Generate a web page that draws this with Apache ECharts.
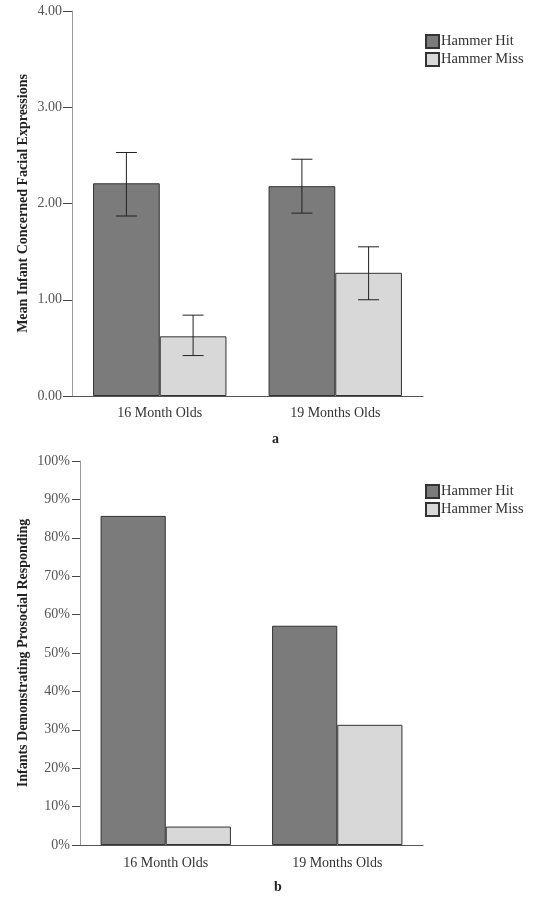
<!DOCTYPE html>
<html>
<head>
<meta charset="utf-8">
<script src="https://cdn.jsdelivr.net/npm/echarts@6/dist/echarts.min.js"></script>
<style>html,body{margin:0;padding:0;background:#fff}#c{width:534px;height:902px}</style>
</head>
<body>
<div id="c"></div>
<script>
const categories = ['16 Month Olds', '19 Months Olds'];
const seriesNames = ['Hammer Hit', 'Hammer Miss'];
// Panel a: mean concerned facial expressions
const meanHit = [2.21, 2.18];
const meanMiss = [0.62, 1.28];
const errHitLow = [1.87, 1.90];
const errHitHigh = [2.53, 2.46];
const errMissLow = [0.42, 1.00];
const errMissHigh = [0.84, 1.55];
const ticksA = [0, 1, 2, 3, 4];
// Panel b: percent prosocial responding
const pctHit = [85.7, 57.1];
const pctMiss = [4.8, 31.3];
const ticksB = [0, 10, 20, 30, 40, 50, 60, 70, 80, 90, 100];

const FONT = '"Liberation Serif", "Times New Roman", serif';
const DARK = '#7b7b7b', LIGHT = '#d8d8d8';
const CAT_GAP = 0.24;

function errSeries(name, low, high, side) {
  return {
    type: 'custom', xAxisIndex: 0, yAxisIndex: 0, z: 10, silent: true,
    name: name + ' err',
    data: categories.map((c, i) => [i, low[i], high[i]]),
    renderItem: function (params, api) {
      const band = api.size([1, 0])[0];
      const off = side * band * (1 - CAT_GAP) / 4;
      const lo = api.coord([api.value(0), api.value(1)]);
      const hi = api.coord([api.value(0), api.value(2)]);
      const x = lo[0] + off, cw = 10.5;
      const st = { stroke: '#222', lineWidth: 1 };
      return { type: 'group', children: [
        { type: 'line', shape: { x1: x, y1: lo[1], x2: x, y2: hi[1] }, style: st },
        { type: 'line', shape: { x1: x - cw, y1: lo[1], x2: x + cw, y2: lo[1] }, style: st },
        { type: 'line', shape: { x1: x - cw, y1: hi[1], x2: x + cw, y2: hi[1] }, style: st }
      ]};
    }
  };
}

function barSeries(name, data, color, idx) {
  return {
    type: 'bar', name: name, xAxisIndex: idx, yAxisIndex: idx, data: data,
    barGap: '0%', barCategoryGap: (CAT_GAP * 100) + '%',
    itemStyle: { color: color, borderColor: '#333', borderWidth: 1 },
    emphasis: { disabled: true }
  };
}

function xAxisCfg(idx, margin) {
  return {
    type: 'category', gridIndex: idx, data: categories,
    axisLine: { lineStyle: { color: '#555', width: 1 } },
    axisTick: { alignWithLabel: true, length: 9, lineStyle: { color: '#444' } },
    axisLabel: { color: '#333', fontSize: 14, fontFamily: FONT, margin: margin },
    splitLine: { show: false }
  };
}

function legendCfg(top) {
  return {
    data: seriesNames, orient: 'vertical', left: 420, top: top,
    itemWidth: 13, itemHeight: 13, itemGap: 3,
    icon: 'rect',
    textStyle: { fontFamily: FONT, fontSize: 14.5, color: '#333', padding: [0, 0, 0, -3] },
    selectedMode: false
  };
}

const chart = echarts.init(document.getElementById('c'));
chart.setOption({
  animation: false,
  backgroundColor: '#fff',
  title: [
    { text: 'a', left: 267, top: 427, textStyle: { fontFamily: FONT, fontSize: 14, fontWeight: 'bold', color: '#222' } },
    { text: 'b', left: 269, top: 875, textStyle: { fontFamily: FONT, fontSize: 14, fontWeight: 'bold', color: '#222' } }
  ],
  legend: [legendCfg(29), legendCfg(479)],
  grid: [
    { left: 72, top: 11, width: 351, height: 385 },
    { left: 80, top: 461, width: 343, height: 384 }
  ],
  xAxis: [xAxisCfg(0, 10), xAxisCfg(1, 11)],
  yAxis: [
    {
      type: 'value', gridIndex: 0, min: ticksA[0], max: ticksA[ticksA.length - 1], interval: 1,
      name: 'Mean Infant Concerned Facial Expressions', nameLocation: 'middle', nameGap: 42, nameRotate: 90,
      nameMoveOverlap: false,
      nameTextStyle: { fontFamily: FONT, fontSize: 14, fontWeight: 'bold', color: '#222' },
      axisLine: { show: true, lineStyle: { color: '#999' } },
      axisTick: { show: true, length: 9, lineStyle: { color: '#444' } },
      axisLabel: { color: '#555', fontSize: 14, fontFamily: FONT, margin: 10, formatter: v => v.toFixed(2) },
      splitLine: { show: false }
    },
    {
      type: 'value', gridIndex: 1, min: ticksB[0], max: ticksB[ticksB.length - 1], interval: 10,
      name: 'Infants Demonstrating Prosocial Responding', nameLocation: 'middle', nameGap: 50, nameRotate: 90,
      nameMoveOverlap: false,
      nameTextStyle: { fontFamily: FONT, fontSize: 14, fontWeight: 'bold', color: '#222' },
      axisLine: { show: true, lineStyle: { color: '#999' } },
      axisTick: { show: true, length: 8, lineStyle: { color: '#444' } },
      axisLabel: { color: '#555', fontSize: 14, fontFamily: FONT, margin: 10, formatter: '{value}%' },
      splitLine: { show: false }
    }
  ],
  series: [
    barSeries(seriesNames[0], meanHit, DARK, 0),
    barSeries(seriesNames[1], meanMiss, LIGHT, 0),
    errSeries(seriesNames[0], errHitLow, errHitHigh, -1),
    errSeries(seriesNames[1], errMissLow, errMissHigh, 1),
    barSeries(seriesNames[0], pctHit, DARK, 1),
    barSeries(seriesNames[1], pctMiss, LIGHT, 1)
  ]
});
</script>
</body>
</html>
